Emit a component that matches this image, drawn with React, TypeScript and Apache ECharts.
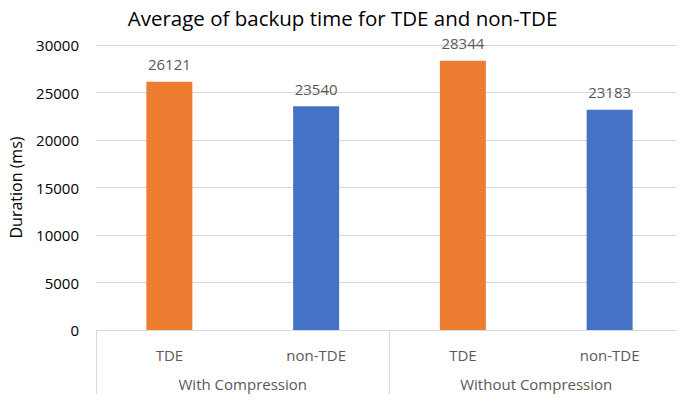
import React, { useEffect, useRef } from "react";
import * as echarts from "echarts";

const categories = ["TDE", "non-TDE", "TDE", "non-TDE"];
const groups = ["With Compression", "Without Compression"];
const values = [26121, 23540, 28344, 23183];
const barColors = ["#ED7D31", "#4472C4", "#ED7D31", "#4472C4"];
const yTicks = { min: 0, max: 30000, interval: 5000 };

const FONT = "'Open Sans', 'Liberation Sans', sans-serif";

export default function App() {
  const ref = useRef<HTMLDivElement>(null);
  useEffect(() => {
    const chart = echarts.init(ref.current!, null, { renderer: "svg" });
    chart.setOption({
      animation: false,
      textStyle: { fontFamily: FONT },
      title: {
        text: "Average of backup time for TDE and non-TDE",
        left: "center",
        top: 2,
        textStyle: { fontFamily: FONT, fontSize: 20.5, fontWeight: "normal", color: "#000" },
      },
      grid: { left: 91, right: 2, top: 45, bottom: 72, containLabel: false },
      xAxis: [
        {
          type: "category",
          data: categories,
          position: "bottom",
          axisLine: { show: true, lineStyle: { color: "#d9d9d9", width: 1 } },
          axisTick: { show: false },
          axisLabel: { color: "#595959", fontSize: 15, margin: 17, fontFamily: FONT },
        },
        {
          type: "category",
          data: groups,
          position: "bottom",
          gridIndex: 0,
          axisLine: { show: false },
          axisTick: { show: true, length: 80, inside: false, lineStyle: { color: "#d9d9d9", width: 1 } },
          axisLabel: { color: "#595959", fontSize: 15, margin: 46, fontFamily: FONT },
        },
      ],
      yAxis: {
        type: "value",
        min: yTicks.min,
        max: yTicks.max,
        interval: yTicks.interval,
        name: "Duration (ms)",
        nameLocation: "middle",
        nameGap: 72,
        nameTextStyle: { color: "#000", fontSize: 16, fontFamily: FONT },
        axisLine: { show: false },
        axisTick: { show: false },
        axisLabel: {
          color: "#000",
          fontSize: 15,
          margin: 17,
          fontFamily: FONT,
          formatter: (v: number) => String(v),
        },
        splitLine: { lineStyle: { color: "#d9d9d9", width: 1 } },
      },
      series: [
        {
          type: "bar",
          xAxisIndex: 0,
          barWidth: 46,
          data: values.map((v, i) => ({ value: v, itemStyle: { color: barColors[i] } })),
          label: {
            show: true,
            position: "top",
            distance: 10,
            color: "#595959",
            fontSize: 15,
            fontFamily: FONT,
          },
        },
      ],
    });
    return () => chart.dispose();
  }, []);
  return <div ref={ref} style={{ width: 685, height: 402, margin: -8 }} />;
}
